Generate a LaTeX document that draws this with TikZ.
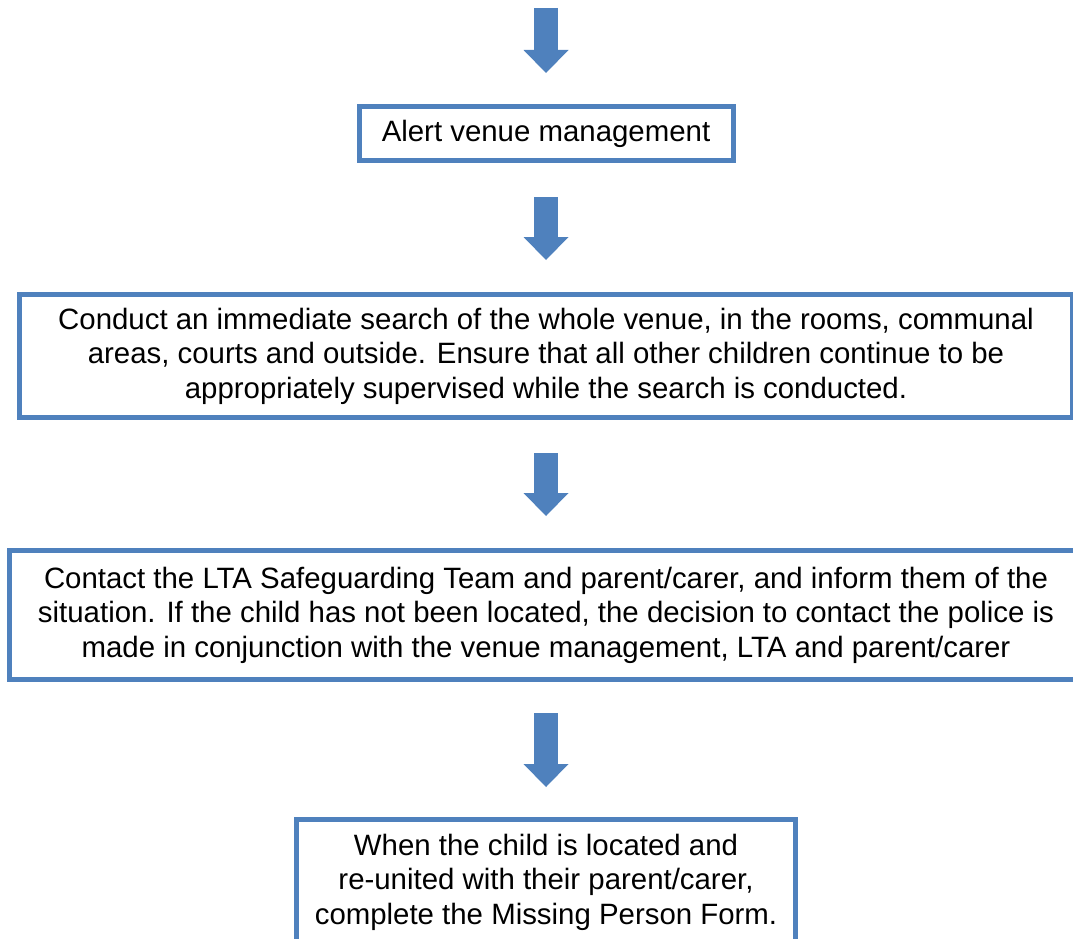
\documentclass[tikz,border=0pt]{standalone}
\usepackage{fontspec}
\setmainfont{Liberation Sans}
\usetikzlibrary{arrows.meta}
\definecolor{flowblue}{RGB}{79,129,189}
\tikzset{
  stepbox/.style={draw=flowblue, line width=5pt, rectangle, align=center, inner sep=0pt,
    font=\fontsize{29.4}{34.5}\selectfont},
  downarrow/.style={draw=flowblue, line width=24pt,
    -{Triangle[width=45pt,length=23pt,line width=0pt]}}
}
\begin{document}
\begin{tikzpicture}[x=1pt,y=-1pt]
	\useasboundingbox (0,0) rectangle (1073,939);
	% Steps
	\node[stepbox, minimum width=374pt, minimum height=54pt] (alert) at (546,133.5)
		{Alert venue management};
	\node[stepbox, minimum width=1053pt, minimum height=123pt] (search) at (546,356)
		{Conduct an immediate search of the whole venue, in the rooms, communal\\
		 areas, courts and outside. Ensure that all other children continue to be\\
		 appropriately supervised while the search is conducted.};
	\node[stepbox, minimum width=1073pt, minimum height=129pt] (contact) at (546,615)
		{Contact the LTA Safeguarding Team and parent/carer, and inform them of the\\
		 situation. If the child has not been located, the decision to contact the police is\\
		 made in conjunction with the venue management, LTA and parent/carer};
	\node[stepbox, minimum width=499pt, minimum height=125pt] (located) at (546,882)
		{When the child is located and\\
		 re-united with their parent/carer,\\
		 complete the Missing Person Form.};
	
	% Arrows between steps
	\coordinate (start) at (546,8);
	\draw[downarrow] (start) -- ([yshift=31pt]alert.north);
	\draw[downarrow] ([yshift=-34pt]alert.south) -- ([yshift=32pt]search.north);
	\draw[downarrow] ([yshift=-33pt]search.south) -- ([yshift=32pt]contact.north);
	\draw[downarrow] ([yshift=-31pt]contact.south) -- ([yshift=30pt]located.north);
\end{tikzpicture}
\end{document}
